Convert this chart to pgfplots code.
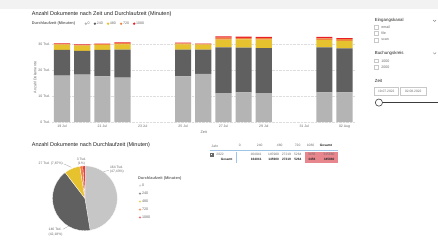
\documentclass[border=0pt]{standalone}
\usepackage{pgfplots}
\pgfplotsset{compat=1.18}
\usepackage{pgfplotstable}
\usepgfplotslibrary{polar}
\usepackage{fontspec}
\setmainfont{Liberation Sans}
\definecolor{cL}{RGB}{180,180,180}
\definecolor{cLp}{RGB}{198,198,198}
\definecolor{cD}{RGB}{96,96,96}
\definecolor{cY}{RGB}{229,194,46}
\definecolor{cO}{RGB}{240,128,64}
\definecolor{cR}{RGB}{232,30,38}
\definecolor{txt}{RGB}{37,36,35}
\definecolor{sub}{RGB}{105,105,105}
\definecolor{pinkc}{RGB}{232,134,142}
\definecolor{bluel}{RGB}{160,196,232}
\definecolor{topband}{RGB}{242,242,242}
\definecolor{boxc}{RGB}{200,200,200}
\definecolor{slid}{RGB}{60,60,60}
\newcommand{\fs}[1]{\fontsize{#1}{#1}\selectfont}
\pgfplotstableread{
x a b c d e
0 17.9 9.9 2.1 0.25 0.15
1 18.3 9.2 1.95 0.3 0.2
2 17.6 10.2 1.95 0.3 0.2
3 17.2 10.7 2.05 0.45 0.3
6 17.6 10.3 2.05 0.4 0.25
7 18.6 9.3 1.95 0.25 0.15
8 11.2 17.6 3.0 0.75 0.5
9 11.5 17.2 3.15 0.65 0.4
10 11.2 17.3 3.25 0.65 0.4
13 11.5 17.3 2.85 0.6 0.55
14 11.5 16.9 2.9 0.65 0.45
}\bars
\begin{document}
\begin{tikzpicture}
\begin{scope}[x=1pt,y=1pt]
\useasboundingbox (0,0) rectangle (438,247);
\fill[white] (0,0) rectangle (438,247);
\fill[topband] (0,238) rectangle (438,247);
\end{scope}

% ---------- stacked bar chart ----------
\begin{axis}[at={(52pt,124.7pt)}, anchor=south west, scale only axis,
  width=303pt, height=88.4pt, xmin=-0.5, xmax=14.5, ymin=0, ymax=34,
  enlargelimits=false, ybar stacked, bar width=16.2pt,
  axis line style={draw=none}, major tick length=0pt,
  xtick={0,2,...,14},
  xticklabels={19 Jul,21 Jul,23 Jul,25 Jul,27 Jul,29 Jul,31 Jul,02 Aug},
  ytick={0,10,20,30}, yticklabels={0 Tsd.,10 Tsd.,20 Tsd.,30 Tsd.},
  ymajorgrids, grid style={draw=black!13, line width=0.35pt, dash pattern=on 0.7pt off 0.7pt},
  tick label style={font=\fs{3.5}, text=sub},
  xticklabel style={anchor=center, inner sep=0pt, yshift=-4.4pt},
  yticklabel style={anchor=east, inner sep=0pt, xshift=-2pt},
  legend columns=-1,
  legend image code/.code={\fill[#1] (1.3pt,0pt) circle (1.3pt);},
  legend style={at={(0.107,1.115)}, anchor=west, draw=none, fill=none, inner sep=0pt,
    font=\fs{3.6}, text=sub,
    nodes={inner sep=0.6pt},
    /tikz/every even column/.append style={column sep=3.3pt}},
]
\addplot[fill=cL, draw=none] table[x=x,y=a]{\bars};
\addplot[fill=cD, draw=none] table[x=x,y=b]{\bars};
\addplot[fill=cY, draw=none] table[x=x,y=c]{\bars};
\addplot[fill=cO, draw=none] table[x=x,y=d]{\bars};
\addplot[fill=cR, draw=none] table[x=x,y=e]{\bars};
\legend{0,240,480,720,1080}
\end{axis}

% ---------- pie chart ----------
\begin{polaraxis}[at={(85pt,48.5pt)}, anchor=center, scale only axis,
  width=65pt, height=65pt, hide axis, xmin=0, xmax=360, ymin=0, ymax=1, clip=false,
  legend image code/.code={\fill[#1] (1.3pt,0pt) circle (1.3pt);},
  legend style={at={(1.323,0.731)}, anchor=north west, draw=none, fill=none, inner sep=0pt,
    font=\fs{3.7}, text=sub, row sep=3.3pt,
    nodes={inner sep=0.6pt, text height=2.7pt, text depth=0.7pt}},
  legend cell align=left,
]
\addplot[fill=cLp, draw=white, line width=0.3pt] coordinates {(0,0) (90,1) (80,1) (70,1) (60,1) (50,1) (40,1) (30,1) (20,1) (10,1) (0,1) (350,1) (340,1) (330,1) (320,1) (310,1) (300,1) (290,1) (280,1) (279.26,1) (0,0)};
\addplot[fill=cD, draw=white, line width=0.3pt] coordinates {(0,0) (279.26,1) (270,1) (260,1) (250,1) (240,1) (230,1) (220,1) (210,1) (200,1) (190,1) (180,1) (170,1) (160,1) (150,1) (140,1) (130,1) (127.40,1) (0,0)};
\addplot[fill=cY, draw=white, line width=0.3pt] coordinates {(0,0) (127.40,1) (120,1) (110,1) (100,1) (99.07,1) (0,0)};
\addplot[fill=cO, draw=white, line width=0.3pt] coordinates {(0,0) (99.07,1) (96.3,1) (93.59,1) (0,0)};
\addplot[fill=cR, draw=white, line width=0.3pt] coordinates {(0,0) (93.59,1) (91.8,1) (90,1) (0,0)};
\legend{0,240,480,720,1080}
\end{polaraxis}

\begin{scope}[x=1pt,y=1pt]
% titles and axis labels
\node[anchor=west, inner sep=0pt, font=\fs{5.5}, text=txt] at (31.7,233) {Anzahl Dokumente nach Zeit und Durchlaufzeit (Minuten)};
\node[anchor=west, inner sep=0pt, font=\bfseries\fs{3.9}, text=sub] at (31.7,223.3) {Durchlaufzeit (Minuten)};
\node[rotate=90, inner sep=0pt, font=\fs{3.7}, text=sub] at (35,169.5) {Anzahl Dokumente};
\node[inner sep=0pt, font=\fs{3.7}, text=sub] at (204,114.5) {Zeit};

\node[anchor=west, inner sep=0pt, font=\fs{5.5}, text=txt] at (31.7,102) {Anzahl Dokumente nach Durchlaufzeit (Minuten)};
\node[anchor=west, inner sep=0pt, font=\bfseries\fs{3.9}, text=sub] at (138,68) {Durchlaufzeit (Minuten)};

% pie labels
\begin{scope}[every node/.style={inner sep=0pt, font=\fs{3.4}, text=sub}]
\node[anchor=west] at (110,79.3) {164 Tsd.};
\node[anchor=west] at (110,74.8) {(47,43\%)};
\draw[sub!70, line width=0.25pt] (103.6,75.1) -- (109,76.6);
\node[anchor=east] at (63,83) {27 Tsd. (7,87\%)};
\draw[sub!70, line width=0.25pt] (63.8,83) -- (71.5,79.5);
\node at (81.5,88) {3 Tsd.};
\node at (81.5,83.3) {(1\%)};
\node[anchor=west] at (48.5,17) {146 Tsd.};
\node[anchor=west] at (48.5,12.4) {(42,18\%)};
\draw[sub!70, line width=0.25pt] (63,17.5) -- (68.5,20.6);
\end{scope}

% table
\fill[pinkc] (305,84) rectangle (338,95);
\draw[bluel, line width=0.4pt] (210,96.3) -- (338,96.3);
\draw[bluel, line width=0.4pt] (236,84) -- (236,95);
\begin{scope}[every node/.style={inner sep=0pt, font=\fs{3.3}, text=sub}]
\node[anchor=west] at (211.7,101) {Jahr};
\node[anchor=west] at (239,101) {0};
\node[anchor=west] at (257,101) {240};
\node[anchor=west] at (277,101) {480};
\node[anchor=west] at (295,101) {720};
\node[anchor=west] at (307,101) {1080};
\node[anchor=west, font=\bfseries\fs{3.3}, text=txt] at (320,101) {Gesamt};
\draw[sub, line width=0.25pt] (210.8,90.8) rectangle (213.4,93.4);
\draw[sub, line width=0.25pt] (211.4,92.1) -- (212.8,92.1) (212.1,91.4) -- (212.1,92.8);
\node[anchor=west] at (216.5,92) {2022};
\node[anchor=east] at (262,92) {164041};
\node[anchor=east] at (279.5,92) {145900};
\node[anchor=east] at (291.5,92) {27219};
\node[anchor=east] at (302,92) {5264};
\node[anchor=east] at (316,92) {3456};
\node[anchor=east] at (335,92) {345880};
\end{scope}
\begin{scope}[every node/.style={inner sep=0pt, font=\bfseries\fs{3.2}, text=txt}]
\node[anchor=east] at (233,87) {Gesamt};
\node[anchor=east] at (262,87) {164041};
\node[anchor=east] at (279.5,87) {145900};
\node[anchor=east] at (291.5,87) {27219};
\node[anchor=east] at (302,87) {5264};
\node[anchor=east] at (316,87) {3456};
\node[anchor=east] at (335,87) {345880};
\end{scope}

% slicers
\begin{scope}[every node/.style={inner sep=0pt, font=\fs{3.6}, text=sub}]
\node[anchor=west, font=\fs{4.4}, text=txt] at (375,226.3) {Eingangskanal};
\draw[sub, line width=0.3pt] (433.5,227) -- (435,225.5) -- (436.5,227);
\draw[boxc, line width=0.3pt] (375,218) rectangle (378.4,221.4);
\node[anchor=west] at (381.5,219.7) {email};
\draw[boxc, line width=0.3pt] (375,212) rectangle (378.4,215.4);
\node[anchor=west] at (381.5,213.7) {file};
\draw[boxc, line width=0.3pt] (375,205.3) rectangle (378.4,208.7);
\node[anchor=west] at (381.5,207) {scan};
\node[anchor=west, font=\fs{4.4}, text=txt] at (375,193.7) {Buchungskreis};
\draw[sub, line width=0.3pt] (433.5,194.4) -- (435,192.9) -- (436.5,194.4);
\draw[boxc, line width=0.3pt] (375,184.3) rectangle (378.4,187.7);
\node[anchor=west] at (381.5,186) {1000};
\draw[boxc, line width=0.3pt] (375,178) rectangle (378.4,181.4);
\node[anchor=west] at (381.5,179.7) {2000};
\node[anchor=west, font=\fs{4.4}, text=txt] at (375,166.3) {Zeit};
\draw[boxc, line width=0.3pt] (375,152) rectangle (398.5,160);
\node[font=\fs{3.3}] at (386.7,156) {19.07.2022};
\draw[boxc, line width=0.3pt] (400.7,152) rectangle (426.7,160);
\node[font=\fs{3.3}] at (413.7,156) {02.08.2022};
\draw[slid, line width=0.9pt] (383,144.3) -- (438,144.3);
\draw[slid, line width=0.6pt, fill=white] (379.3,144.3) circle (3.6);
\end{scope}
\end{scope}
\end{tikzpicture}
\end{document}
